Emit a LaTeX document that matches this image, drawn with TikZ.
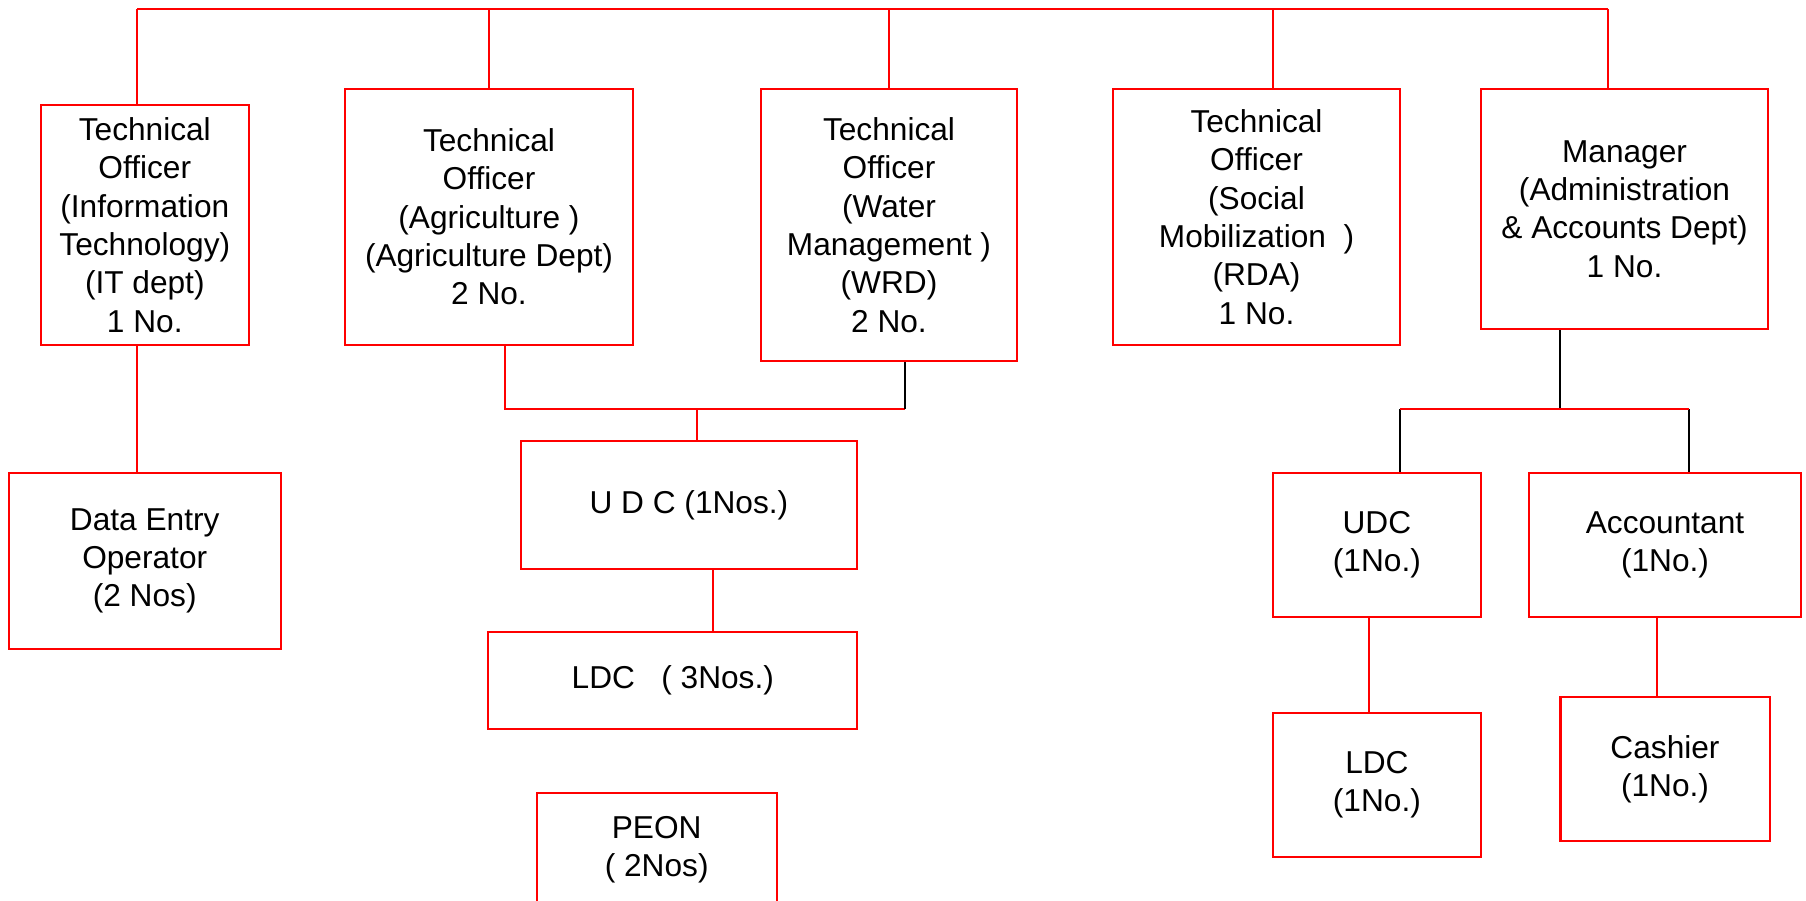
\documentclass[tikz,border=0pt]{standalone}
\usepackage{fontspec}
\setmainfont{Liberation Sans}
\begin{document}
\begin{tikzpicture}[x=0.01cm, y=-0.01cm, box style/.style 2 args={rectangle, draw=red, line width=0.6pt, inner sep=0pt, align=center, font={\fontsize{9pt}{10.9pt}\selectfont}, minimum width=#1cm, minimum height=#2cm}, wire/.style={red, line width=0.4pt}, black wire/.style={black, line width=0.4pt}]
	\useasboundingbox (0,0) rectangle (1806,901);
	\node[box style={2.08}{2.40}] (S1) at (144.8,224.9) {Technical\\Officer\\(Information\\Technology)\\(IT dept)\\1 No.};
	\node[box style={2.88}{2.56}] (S2) at (489,216.9) {Technical\\Officer\\(Agriculture )\\(Agriculture Dept)\\2 No.};
	\node[box style={2.56}{2.72}] (S3) at (889,225) {Technical\\Officer\\(Water\\Management )\\(WRD)\\2 No.};
	\node[box style={2.87}{2.56}] (S4) at (1256.5,217) {Technical\\Officer\\(Social\\Mobilization~~)\\(RDA)\\1 No.};
	\node[box style={2.87}{2.40}] (S5) at (1624.5,209) {Manager\\(Administration\\\& Accounts Dept)\\1 No.};
	\node[box style={2.72}{1.76}] (S6) at (144.7,561) {Data Entry\\Operator\\(2 Nos)};
	\node[box style={3.36}{1.28}] (S7) at (688.9,505) {U D C (1Nos.)};
	\node[box style={3.69}{0.97}] (S8) at (672.8,680.5) {LDC~~~( 3Nos.)};
	\node[box style={2.40}{1.14}] (S9) at (656.7,850) {PEON\\( 2Nos)};
	\node[box style={2.08}{1.44}] (S10) at (1376.9,545) {UDC\\(1No.)};
	\node[box style={2.72}{1.44}] (S11) at (1665,545) {Accountant\\(1No.)};
	\node[box style={2.08}{1.44}] (S12) at (1376.9,785) {LDC\\(1No.)};
	\node[box style={2.09}{1.44}] (S13) at (1665,769) {Cashier\\(1No.)};
	% top bus
	\coordinate (busL) at (137,9);
	\coordinate (busD) at (1273,9);
	\coordinate (busR) at (1608,9);
	\draw[wire] (busL) -- (busR);
	\draw[wire] (busL) -- (busL |- S1.north);
	\foreach \n in {2,3}
	\draw[wire] (S\n.north) -- (S\n.north |- busL);
	\draw[wire] (busD) -- (busD |- S4.north);
	\draw[wire] (busR) -- (busR |- S5.north);
	\draw[wire] (busL |- S1.south) -- (busL |- S6.north);
	% clerks under agriculture and water
	\coordinate (J1) at (505,409);
	\coordinate (J2) at (905,409);
	\coordinate (J3) at (697,409);
	\coordinate (J4) at (713,600);
	\draw[wire] (J1 |- S2.south) -- (J1) -- (J2);
	\draw[black wire] (J2 |- S3.south) -- (J2);
	\draw[wire] (J3) -- (J3 |- S7.north);
	\draw[wire] (J4 |- S7.south) -- (J4 |- S8.north);
	% administration
	\coordinate (M1) at (1560,409);
	\coordinate (M2) at (1400,409);
	\coordinate (M3) at (1689,409);
	\coordinate (M4) at (1369,650);
	\coordinate (M5) at (1657,650);
	\draw[black wire] (M1 |- S5.south) -- (M1);
	\draw[black wire] (M2) -- (M2 |- S10.north);
	\draw[black wire] (M3) -- (M3 |- S11.north);
	\draw[wire] (M2) -- (M3);
	\draw[wire] (M4 |- S10.south) -- (M4 |- S12.north);
	\draw[wire] (M5 |- S11.south) -- (M5 |- S13.north);
\end{tikzpicture}
\end{document}
